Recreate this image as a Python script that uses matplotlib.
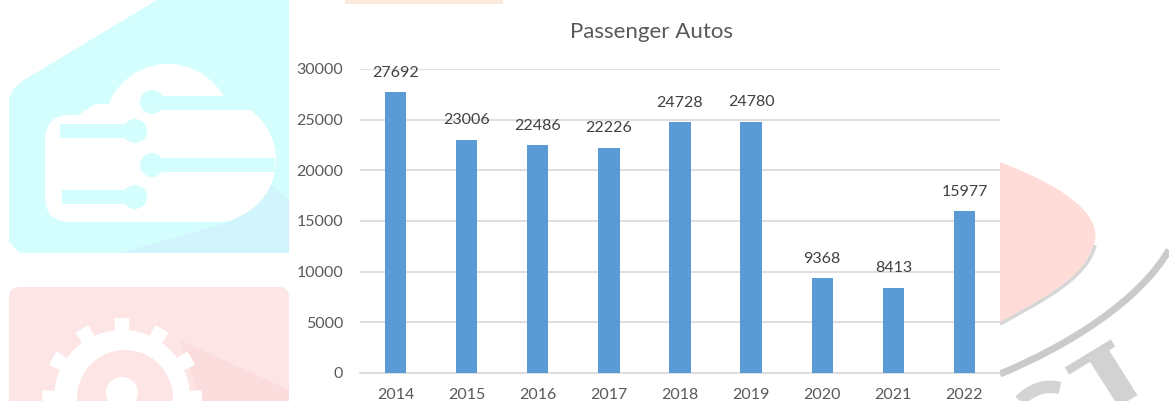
import numpy as np
import matplotlib.pyplot as plt
from matplotlib.patches import Polygon, Circle, FancyBboxPatch, Rectangle, PathPatch
from matplotlib.path import Path

# Passenger auto sales per year
years = ['2014', '2015', '2016', '2017', '2018', '2019', '2020', '2021', '2022']
autos = [27692, 23006, 22486, 22226, 24728, 24780, 9368, 8413, 15977]
y_ticks = [0, 5000, 10000, 15000, 20000, 25000, 30000]

BAR_COLOR = '#5B9BD5'
GRID_COLOR = '#D9D9D9'
TEXT_COLOR = '#595959'
LABEL_COLOR = '#404040'

plt.rcParams['font.family'] = ['Lato', 'DejaVu Sans']


def _draw_cloud_badge(bg):
    """Light cyan badge with the white circuit cloud"""
    cyan = '#D4FEFE'
    bg.add_patch(Polygon([(157, 0), (289, 0), (289, 253), (20, 253), (9, 242),
                          (9, 98), (14, 88), (24, 80)], closed=True,
                         facecolor=cyan, edgecolor='none'))
    # long shadow behind the cloud
    bg.add_patch(Polygon([(230, 222), (272, 185), (289, 200), (289, 253), (120, 253)],
                         closed=True, facecolor='#D2F4FC', edgecolor='none'))

    # cloud body
    bg.add_patch(Circle((168, 128), 64, facecolor='white', edgecolor='none'))
    bg.add_patch(Circle((214, 160), 62, facecolor='white', edgecolor='none'))
    bg.add_patch(FancyBboxPatch((70, 140), 150, 57, boxstyle='round,pad=25',
                                facecolor='white', edgecolor='none'))
    bg.add_patch(Polygon([(60, 127), (95, 104), (140, 104), (140, 127)], closed=True,
                         facecolor='white', edgecolor='none'))

    # circuit traces cut through the cloud
    traces = [((152, 290), 103, (152, 102)), ((60, 135), 131, (135, 131)),
              ((152, 275), 165, (152, 165)), ((62, 135), 197, (135, 197))]
    for (x0, x1), yc, dot in traces:
        bg.add_patch(Rectangle((x0, yc - 7), x1 - x0, 14, facecolor=cyan, edgecolor='none'))
        bg.add_patch(Circle(dot, 12, facecolor=cyan, edgecolor='none'))


def _draw_gear_badge(bg):
    """Light pink badge with a white gear"""
    pink = '#FDE5E5'
    bg.add_patch(FancyBboxPatch((19, 297), 260, 120, boxstyle='round,pad=10',
                                facecolor=pink, edgecolor='none'))
    bg.add_patch(Polygon([(180, 340), (289, 390), (289, 401), (200, 401)], closed=True,
                         facecolor='#FCDDDD', edgecolor='none'))

    cx, cy = 122, 398
    theta = np.linspace(0, 2 * np.pi, 721)
    teeth = 12
    radius = 68 + 12 * (np.cos(teeth * theta) > 0.35)
    gear = np.column_stack([cx + radius * np.sin(theta), cy - radius * np.cos(theta)])
    bg.add_patch(Polygon(gear, closed=True, facecolor='white', edgecolor='none'))
    bg.add_patch(Circle((cx + 3, cy), 48, facecolor=pink, edgecolor='none'))
    bg.add_patch(Circle((cx, cy - 5), 16, facecolor='white', edgecolor='none'))


def _draw_right_mark(bg):
    """Pink crescent and grey strokes on the right margin"""
    crescent = Path([(1000, 162), (1060, 185), (1100, 212), (1095, 240),
                     (1090, 275), (1040, 300), (1000, 322), (1000, 162)],
                    [Path.MOVETO, Path.CURVE4, Path.CURVE4, Path.CURVE4,
                     Path.CURVE4, Path.CURVE4, Path.CURVE4, Path.CLOSEPOLY])
    bg.add_patch(PathPatch(crescent, facecolor='#FFDCD8', edgecolor='none'))
    edge = Path([(1095, 245), (1088, 278), (1040, 302), (1000, 324)],
                [Path.MOVETO, Path.CURVE4, Path.CURVE4, Path.CURVE4])
    bg.add_patch(PathPatch(edge, facecolor='none', edgecolor='#D6D6D6', lw=2.5))

    band = Path([(1000, 374), (1070, 345), (1140, 300), (1169, 250)],
                [Path.MOVETO, Path.CURVE4, Path.CURVE4, Path.CURVE4])
    bg.add_patch(PathPatch(band, facecolor='none', edgecolor='#CACACA', lw=5))

    bg.plot([1067, 1113], [371, 343], color='#CFCFCF', lw=6, solid_capstyle='butt')
    bg.plot([1097, 1128], [352, 401], color='#D2D2D2', lw=16, solid_capstyle='butt')
    arc = Path([(1020, 401), (1030, 390), (1045, 384), (1060, 388)],
               [Path.MOVETO, Path.CURVE4, Path.CURVE4, Path.CURVE4])
    bg.add_patch(PathPatch(arc, facecolor='none', edgecolor='#D4D4D4', lw=9))


fig = plt.figure(figsize=(11.69, 4.01), dpi=100)

# Page background layer, in pixel units
bg = fig.add_axes([0, 0, 1, 1], zorder=0)
bg.set_xlim(0, 1169)
bg.set_ylim(401, 0)
bg.axis('off')
_draw_cloud_badge(bg)
_draw_gear_badge(bg)
_draw_right_mark(bg)
bg.add_patch(Rectangle((345, 0), 158, 4, facecolor='#FDE9D9', edgecolor='none'))
bg.add_patch(Rectangle((289, 6), 711, 400, facecolor='white', edgecolor='none'))

# Bar chart
ax = fig.add_axes([360 / 1169, 28 / 401, 640 / 1169, 304 / 401], zorder=2)
ax.set_facecolor('none')
x = np.arange(len(years))
bars = ax.bar(x, autos, width=0.3, color=BAR_COLOR, zorder=3)

for rect, value in zip(bars, autos):
    ax.annotate(f'{value}', (rect.get_x() + rect.get_width() / 2, value),
                xytext=(0, 9), textcoords='offset points', ha='center', va='bottom',
                fontsize=11.5, color=LABEL_COLOR)

ax.set_xlim(-0.5, len(years) - 0.5)
ax.set_ylim(0, 30000)
ax.set_xticks(x)
ax.set_xticklabels(years)
ax.set_yticks(y_ticks)
ax.set_yticklabels([str(t) for t in y_ticks])
ax.tick_params(axis='both', length=0, labelsize=11.5, labelcolor=TEXT_COLOR)
ax.tick_params(axis='x', pad=11)
ax.tick_params(axis='y', pad=12)
ax.grid(axis='y', color=GRID_COLOR, lw=1.2, zorder=0)
for side in ['top', 'right', 'left']:
    ax.spines[side].set_visible(False)
ax.spines['bottom'].set_color(GRID_COLOR)
ax.spines['bottom'].set_linewidth(1.2)

fig.text(652 / 1169, 1 - 32 / 401, 'Passenger Autos', ha='center', va='center',
         fontsize=16, color=TEXT_COLOR)

fig.savefig('out.png', dpi=100)
